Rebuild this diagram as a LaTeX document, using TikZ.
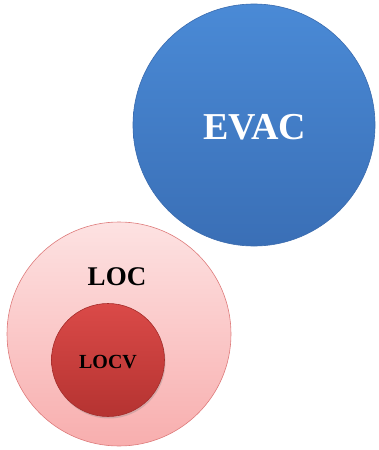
\documentclass[tikz,border=0pt]{standalone}
\usepackage{fontspec}
\setmainfont{Liberation Serif}
\usetikzlibrary{shadows}
\definecolor{bluetop}{HTML}{4A8AD6}
\definecolor{bluebot}{HTML}{3A6FB6}
\definecolor{blueedge}{HTML}{3A6BAE}
\definecolor{pinktop}{HTML}{FDE2E2}
\definecolor{pinkbot}{HTML}{F8AEAE}
\definecolor{pinkedge}{HTML}{DE7C7C}
\definecolor{redtop}{HTML}{DA4A48}
\definecolor{redbot}{HTML}{B53331}
\definecolor{rededge}{HTML}{A52C2A}
\tikzset{
  disc/.style={circle, inner sep=0pt, draw, line width=0.6pt},
  lbl/.style={font=\bfseries, inner sep=0pt}
}
\begin{document}
\begin{tikzpicture}[x=1pt,y=-1pt]
\useasboundingbox (0,0) rectangle (378,450);
\node[disc, minimum size=242pt, draw=blueedge, top color=bluetop, bottom color=bluebot] (evac) at (254,125) {};
\node[lbl, font=\fontsize{38}{40}\selectfont\bfseries, text=white] (evact) at (255,127) {EVAC};
\node[disc, minimum size=224pt, draw=pinkedge, top color=pinktop, bottom color=pinkbot] (loc) at (119,334) {};
\node[lbl, font=\fontsize{27}{29}\selectfont\bfseries, text=black] (loct) at (117,277) {LOC};
\node[disc, minimum size=113pt, draw=rededge, top color=redtop, bottom color=redbot, drop shadow={shadow xshift=1pt, shadow yshift=-2pt, opacity=0.3}] (locv) at (108,360) {};
\node[lbl, font=\fontsize{20}{22}\selectfont\bfseries, text=black] (locvt) at (108,362) {LOCV};
\end{tikzpicture}
\end{document}
